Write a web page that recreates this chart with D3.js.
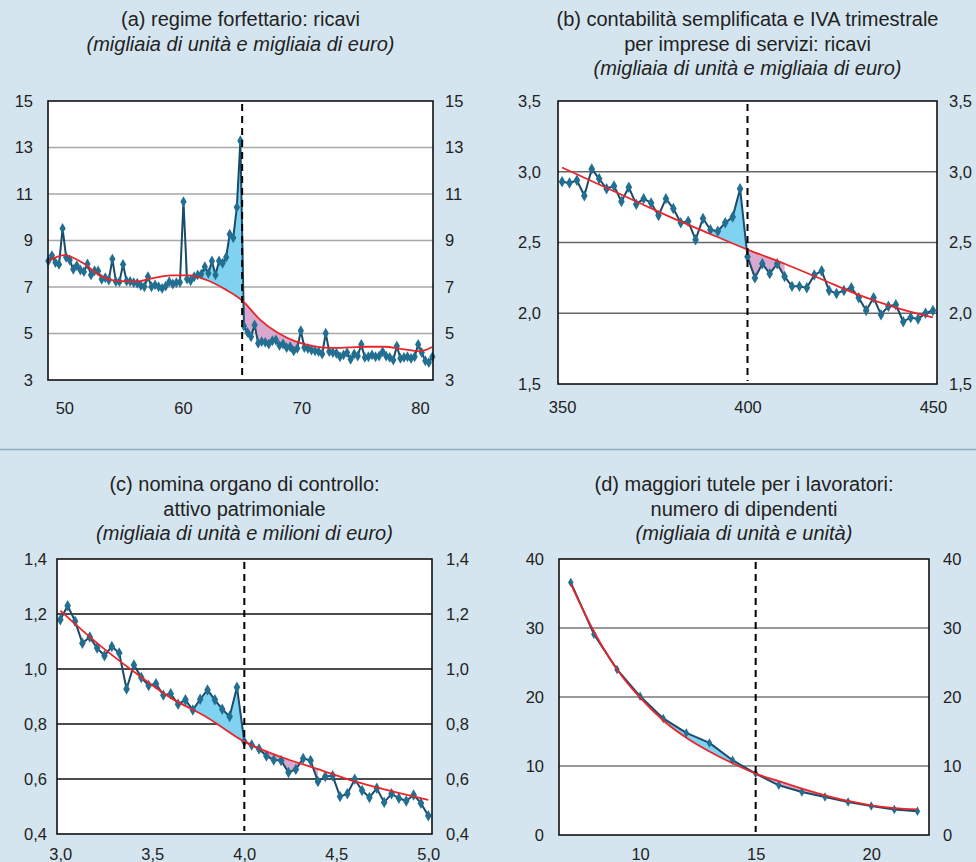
<!DOCTYPE html>
<html>
<head>
<meta charset="utf-8">
<script src="https://cdn.jsdelivr.net/npm/d3@7"></script>
<style>
  html, body { margin: 0; padding: 0; background: #d4e5ef; }
  svg { display: block; font-family: "Liberation Sans", Arial, Helvetica, sans-serif; }
</style>
</head>
<body>
<svg id="chart" width="976" height="862"></svg>
<script>
// --- Data ---

// (a) regime forfettario: bins of 0.3 (thousand euro), first bin centre 48.65
const aBinStart = 48.65, aBinWidth = 0.3;
const aCount = [
  8.12, 8.35, 8.05, 7.97, 9.52, 8.28, 8.16, 7.76, 7.92, 7.73,
  7.66, 7.99, 7.52, 7.70, 7.69, 7.33, 7.40, 7.30, 8.20, 7.23,
  7.23, 7.97, 7.26, 7.24, 7.19, 7.16, 7.06, 7.01, 7.44, 7.01,
  7.09, 7.01, 6.94, 7.04, 7.23, 7.13, 7.19, 7.20, 10.67, 7.34,
  7.27, 7.44, 7.52, 7.55, 7.87, 7.59, 8.12, 7.52, 8.12, 8.02,
  8.28, 9.27, 9.12, 10.43, 13.29,
  5.32, 5.05, 4.86, 5.37, 4.58, 4.65, 4.62, 4.55, 4.69, 4.72,
  4.48, 4.55, 4.39, 4.43, 4.25, 4.36, 5.12, 4.40, 4.35, 4.29,
  4.25, 4.22, 4.12, 5.01, 4.22, 4.18, 4.15, 4.00, 4.08, 4.18,
  3.89, 4.12, 4.03, 4.53, 3.97, 4.00, 4.08, 4.00, 4.03, 4.22,
  4.03, 3.97, 3.86, 4.46, 3.93, 3.97, 4.00, 3.93, 4.00, 4.53,
  4.18, 3.83, 3.75, 4.00
];
const aFitX = [48.65, 50.0, 51.5, 53.0, 54.5, 56.0, 57.5, 59.0, 60.5, 62.0, 63.5, 65.0,
               66.5, 68.0, 69.5, 71.0, 72.5, 74.0, 75.5, 77.0, 78.5, 80.0, 81.05];
const aFitY = [8.12, 8.37, 8.05, 7.50, 7.26, 7.23, 7.38, 7.50, 7.50, 7.30, 6.92, 6.42,
               5.60, 5.03, 4.66, 4.46, 4.38, 4.40, 4.43, 4.43, 4.33, 4.24, 4.42];

// (b) contabilità semplificata: bins of 2 (thousand euro), from 350
const bBinStart = 350, bBinWidth = 2;
const bCount = [
  2.93, 2.92, 2.94, 2.83, 3.02, 2.95, 2.88, 2.90, 2.79, 2.89,
  2.77, 2.81, 2.78, 2.69, 2.81, 2.74, 2.64, 2.65, 2.52, 2.67,
  2.59, 2.58, 2.64, 2.68, 2.88,
  2.40, 2.25, 2.35, 2.28, 2.35, 2.26, 2.19, 2.19, 2.18, 2.27,
  2.30, 2.16, 2.14, 2.16, 2.18, 2.11, 2.02, 2.11, 1.99, 2.05,
  2.06, 1.94, 1.97, 1.96, 2.00, 2.02
];
const bFitX = [350, 360, 370, 380, 390, 400, 410, 420, 430, 440, 450];
const bFitY = [3.03, 2.91, 2.79, 2.67, 2.56, 2.45, 2.35, 2.24, 2.13, 2.04, 1.97];

// (c) organo di controllo: bins of 0.04 (million euro), from 3.00
const cBinStart = 3.0, cBinWidth = 0.04;
const cCount = [
  1.179, 1.230, 1.174, 1.094, 1.116, 1.076, 1.048, 1.082, 1.058, 0.927,
  1.015, 0.969, 0.940, 0.946, 0.905, 0.910, 0.872, 0.888, 0.851, 0.890,
  0.924, 0.888, 0.854, 0.827, 0.934,
  0.736, 0.724, 0.709, 0.684, 0.669, 0.667, 0.624, 0.635, 0.675, 0.667,
  0.591, 0.609, 0.612, 0.536, 0.546, 0.599, 0.558, 0.533, 0.566, 0.515,
  0.546, 0.530, 0.520, 0.542, 0.512, 0.466
];
const cFitX = [3.0, 3.2, 3.4, 3.6, 3.8, 4.0, 4.2, 4.4, 4.6, 4.8, 5.0];
const cFitY = [1.212, 1.094, 0.990, 0.895, 0.823, 0.736, 0.680, 0.636, 0.591, 0.556, 0.524];

// (d) tutele per i lavoratori: number of employees
const dEmployees = [7, 8, 9, 10, 11, 12, 13, 14, 15, 16, 17, 18, 19, 20, 21, 22];
const dCount = [36.6, 29.1, 24.0, 20.1, 16.9, 14.8, 13.35, 10.84, 8.9, 7.2, 6.24, 5.5, 4.79, 4.21, 3.68, 3.43];
const dFitY = [36.4, 29.5, 24.0, 19.9, 16.6, 14.1, 12.1, 10.4, 8.9, 7.8, 6.72, 5.76, 4.93, 4.3, 3.9, 3.7];

// bin centres (x categories)
const aBins = aCount.map((_, i) => aBinStart + aBinWidth * i);
const bBins = bCount.map((_, i) => bBinStart + bBinWidth * i);
const cBins = cCount.map((_, i) => cBinStart + cBinWidth * i);

const it = d3.formatLocale({ decimal: ",", thousands: ".", grouping: [3], currency: ["", " €"] });
const fmtInt = it.format("d");
const fmt1 = it.format(".1f");

const LINE_COL = "#1b4b6b";
const MARK_COL = "#236f92";
const FIT_COL = "#e8262a";
const BLUE_FILL = "#7fd3f0";
const PINK_FILL = "#d8a9cf";

const svg = d3.select("#chart");
const defs = svg.append("defs");

// separator between the two rows
svg.append("line")
  .attr("x1", 0).attr("x2", 976).attr("y1", 449.5).attr("y2", 449.5)
  .attr("stroke", "#8eadc0").attr("stroke-width", 1.5);

const panels = [
  {
    id: "a", title: ["(a) regime forfettario: ricavi", "(migliaia di unità e migliaia di euro)"], titleY: 26,
    left: 48, right: 433, top: 101, bottom: 380,
    xDomain: [48.62, 81.1], yDomain: [3, 15],
    xTicks: [50, 60, 70, 80], yTicks: [3, 5, 7, 9, 11, 13, 15],
    xFmt: fmtInt, yFmt: fmtInt, gridCol: "#a8a8a8", padL: 15, padR: 12,
    xs: aBins, ys: aCount, fitX: aFitX, fitY: aFitY,
    cut: 65, blue: [60.2, 65], pink: [65, 70], markSize: 34, labelY: 414
  },
  {
    id: "b", title: ["(b) contabilità semplificata e IVA trimestrale", "per imprese di servizi: ricavi",
                     "(migliaia di unità e migliaia di euro)"], titleY: 26,
    left: 558, right: 937, top: 101, bottom: 384,
    xDomain: [348.9, 451.1], yDomain: [1.5, 3.5],
    xTicks: [350, 400, 450], yTicks: [1.5, 2.0, 2.5, 3.0, 3.5],
    xFmt: fmtInt, yFmt: fmt1, gridCol: "#666", padL: 17, padR: 12,
    xs: bBins, ys: bCount, fitX: bFitX, fitY: bFitY,
    cut: 400, blue: [390, 400], pink: [400, 410], markSize: 38, labelY: 413
  },
  {
    id: "c", title: ["(c) nomina organo di controllo:", "attivo patrimoniale", "(migliaia di unità e milioni di euro)"], titleY: 491,
    left: 57, right: 432, top: 559, bottom: 834,
    xDomain: [2.982, 5.02], yDomain: [0.4, 1.4],
    xTicks: [3.0, 3.5, 4.0, 4.5, 5.0], yTicks: [0.4, 0.6, 0.8, 1.0, 1.2, 1.4],
    xFmt: fmt1, yFmt: fmt1, gridCol: "#111", padL: 10, padR: 14,
    xs: cBins, ys: cCount, fitX: cFitX, fitY: cFitY,
    cut: 4.0, blue: [3.6, 4.0], pink: [4.0, 4.4], markSize: 38, labelY: 860
  },
  {
    id: "d", title: ["(d) maggiori tutele per i lavoratori:", "numero di dipendenti", "(migliaia di unità e unità)"], titleY: 491,
    left: 559, right: 929, top: 559, bottom: 835,
    xDomain: [6.49, 22.5], yDomain: [0, 40],
    xTicks: [10, 15, 20], yTicks: [0, 10, 20, 30, 40],
    xFmt: fmtInt, yFmt: fmtInt, gridCol: "#777", padL: 15, padR: 14,
    xs: dEmployees, ys: dCount, fitX: dEmployees, fitY: dFitY,
    cut: 15, blue: [10, 15], pink: [15, 22], markSize: 26, labelY: 860
  }
];

function drawPanel(p) {
  const g = svg.append("g").attr("class", "panel-" + p.id);
  const x = d3.scaleLinear().domain(p.xDomain).range([p.left, p.right]);
  const y = d3.scaleLinear().domain(p.yDomain).range([p.bottom, p.top]);
  const w = p.right - p.left, h = p.bottom - p.top;
  const pts = d3.zip(p.xs, p.ys);
  const fit = d3.zip(p.fitX, p.fitY);
  const fitCurve = d3.curveMonotoneX;

  // title
  const cx = (p.left + p.right) / 2;
  p.title.forEach((t, i) => {
    g.append("text")
      .attr("x", cx).attr("y", p.titleY + i * 24.5)
      .attr("text-anchor", "middle")
      .attr("font-size", 20).attr("fill", "#222")
      .attr("font-style", i === p.title.length - 1 ? "italic" : null)
      .text(t);
  });

  // plot background
  g.append("rect")
    .attr("x", p.left).attr("y", p.top).attr("width", w).attr("height", h)
    .attr("fill", "#fff");

  // horizontal gridlines
  g.selectAll(".grid").data(p.yTicks.slice(1, -1)).join("line")
    .attr("x1", p.left).attr("x2", p.right)
    .attr("y1", d => y(d)).attr("y2", d => y(d))
    .attr("stroke", p.gridCol).attr("stroke-width", 1.4);

  // clip paths: region above / below the fitted curve, and x windows
  defs.append("clipPath").attr("id", p.id + "-above").append("path")
    .attr("d", d3.area().curve(fitCurve).x(d => x(d[0])).y0(p.top).y1(d => y(d[1]))(fit));
  defs.append("clipPath").attr("id", p.id + "-below").append("path")
    .attr("d", d3.area().curve(fitCurve).x(d => x(d[0])).y0(p.bottom).y1(d => y(d[1]))(fit));
  defs.append("clipPath").attr("id", p.id + "-xblue").append("rect")
    .attr("x", x(p.blue[0])).attr("y", p.top).attr("width", x(p.blue[1]) - x(p.blue[0])).attr("height", h);
  defs.append("clipPath").attr("id", p.id + "-xpink").append("rect")
    .attr("x", x(p.pink[0])).attr("y", p.top).attr("width", x(p.pink[1]) - x(p.pink[0])).attr("height", h);

  // excess mass (blue): under the data, above the fit
  g.append("g").attr("clip-path", `url(#${p.id}-xblue)`)
    .append("path")
    .attr("clip-path", `url(#${p.id}-above)`)
    .attr("d", d3.area().x(d => x(d[0])).y0(p.bottom).y1(d => y(d[1]))(pts))
    .attr("fill", BLUE_FILL);

  // missing mass (pink): above the data, below the fit
  g.append("g").attr("clip-path", `url(#${p.id}-xpink)`)
    .append("path")
    .attr("clip-path", `url(#${p.id}-below)`)
    .attr("d", d3.area().x(d => x(d[0])).y0(p.top).y1(d => y(d[1]))(pts))
    .attr("fill", PINK_FILL);

  // observed distribution
  g.append("path")
    .attr("d", d3.line().x(d => x(d[0])).y(d => y(d[1]))(pts))
    .attr("fill", "none").attr("stroke", LINE_COL).attr("stroke-width", 2)
    .attr("stroke-linejoin", "round");

  g.selectAll(".mark").data(pts).join("path")
    .attr("transform", d => `translate(${x(d[0])},${y(d[1])})`)
    .attr("d", d3.symbol(d3.symbolDiamond, p.markSize))
    .attr("fill", MARK_COL);

  // counterfactual fit
  g.append("path")
    .attr("d", d3.line().curve(fitCurve).x(d => x(d[0])).y(d => y(d[1]))(fit))
    .attr("fill", "none").attr("stroke", FIT_COL).attr("stroke-width", 1.8);

  // threshold
  g.append("line")
    .attr("x1", x(p.cut)).attr("x2", x(p.cut)).attr("y1", p.top + 3).attr("y2", p.bottom - 3)
    .attr("stroke", "#000").attr("stroke-width", 2).attr("stroke-dasharray", "7,5");

  // frame
  g.append("rect")
    .attr("x", p.left).attr("y", p.top).attr("width", w).attr("height", h)
    .attr("fill", "none").attr("stroke", "#111").attr("stroke-width", 1.6);

  // axes (labels only)
  const styleAxis = sel => {
    sel.attr("font-family", null).attr("font-size", null);
    sel.select(".domain").remove();
    sel.selectAll("text").attr("font-size", 16.5).attr("fill", "#222");
  };
  g.append("g").attr("transform", `translate(${p.left},0)`)
    .call(d3.axisLeft(y).tickValues(p.yTicks).tickSize(0).tickPadding(p.padL).tickFormat(p.yFmt))
    .call(styleAxis);
  g.append("g").attr("transform", `translate(${p.right},0)`)
    .call(d3.axisRight(y).tickValues(p.yTicks).tickSize(0).tickPadding(p.padR).tickFormat(p.yFmt))
    .call(styleAxis);
  g.append("g").attr("transform", `translate(0,${p.labelY})`)
    .call(d3.axisBottom(x).tickValues(p.xTicks).tickSize(0).tickPadding(0).tickFormat(p.xFmt))
    .call(styleAxis)
    .call(sel => sel.selectAll("text").attr("dy", 0).attr("y", 0));
}

panels.forEach(drawPanel);
</script>
</body>
</html>
